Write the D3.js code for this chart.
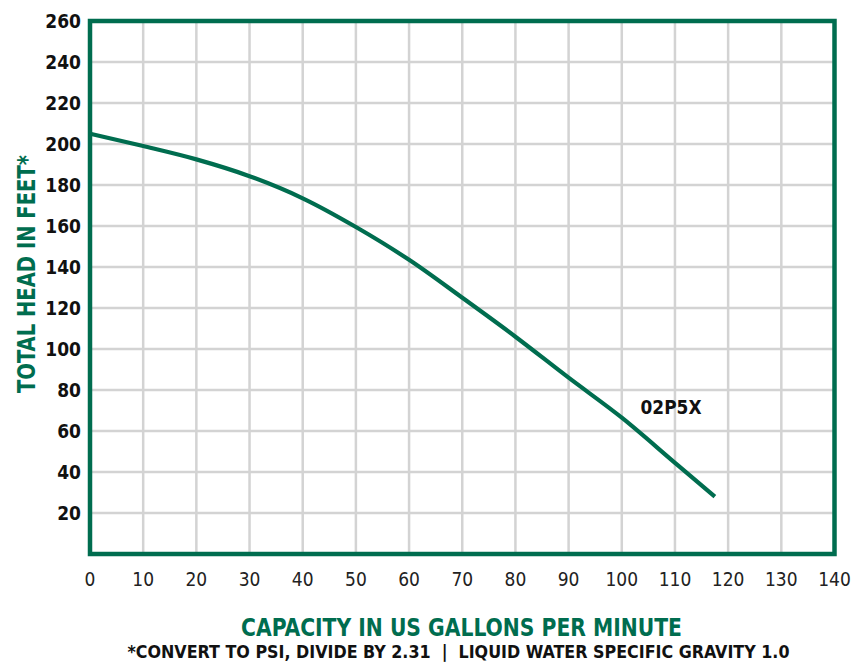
<!DOCTYPE html>
<html>
<head>
<meta charset="utf-8">
<script src="https://cdn.jsdelivr.net/npm/d3@7"></script>
<style>
  html, body { margin: 0; padding: 0; background: #fff; }
  svg { display: block; }
  text { font-family: "Liberation Sans Narrow", "DejaVu Sans Condensed", "Roboto Condensed", sans-serif; }
</style>
</head>
<body>
<svg id="chart" width="861" height="662"></svg>
<script>
// ---- data ----
const flowGPM = [0, 10, 20, 30, 40, 50, 60, 70, 80, 90, 100, 110, 117.5];
const headFt  = [205, 199, 192.5, 184.3, 173.5, 159.5, 143.5, 125, 106, 86, 66.5, 44.5, 28];
const xTicks = [0, 10, 20, 30, 40, 50, 60, 70, 80, 90, 100, 110, 120, 130, 140];
const yTicks = [20, 40, 60, 80, 100, 120, 140, 160, 180, 200, 220, 240, 260];
const gridY = [20, 40, 60, 80, 100, 120, 140, 160, 180, 200, 220, 240];
const seriesName = "02P5X";
const yTitle = "TOTAL HEAD IN FEET*";
const xTitle = "CAPACITY IN US GALLONS PER MINUTE";
const footnote = "*CONVERT TO PSI, DIVIDE BY 2.31  |  LIQUID WATER SPECIFIC GRAVITY 1.0";

const GREEN = "#006d4f";
const GRID = "#d3d3d3";

const svg = d3.select("#chart");
const x = d3.scaleLinear().domain([0, 140]).range([90, 834.5]);
const y = d3.scaleLinear().domain([0, 260]).range([554, 21]);

// grid
svg.append("g").selectAll("line").data(xTicks.slice(1, -1)).join("line")
  .attr("x1", d => x(d)).attr("x2", d => x(d))
  .attr("y1", y(260)).attr("y2", y(0))
  .attr("stroke", GRID).attr("stroke-width", 2.5);
svg.append("g").selectAll("line").data(gridY).join("line")
  .attr("x1", x(0)).attr("x2", x(140))
  .attr("y1", d => y(d)).attr("y2", d => y(d))
  .attr("stroke", GRID).attr("stroke-width", 2.5);

// curve
const pts = flowGPM.map((f, i) => [f, headFt[i]]);
svg.append("path")
  .datum(pts)
  .attr("d", d3.line().x(d => x(d[0])).y(d => y(d[1])).curve(d3.curveMonotoneX))
  .attr("fill", "none").attr("stroke", GREEN).attr("stroke-width", 4.2);

// frame
svg.append("rect")
  .attr("x", x(0)).attr("y", y(260))
  .attr("width", x(140) - x(0)).attr("height", y(0) - y(260))
  .attr("fill", "none").attr("stroke", GREEN).attr("stroke-width", 4.5);

// y tick labels
svg.append("g").selectAll("text").data(yTicks).join("text")
  .attr("x", 81).attr("y", d => y(d)).attr("dy", "0.36em")
  .attr("text-anchor", "end")
  .attr("font-size", 19).attr("font-weight", "bold").attr("fill", "#111")
  .text(d => d);

// x tick labels
svg.append("g").selectAll("text").data(xTicks).join("text")
  .attr("x", d => x(d)).attr("y", 586)
  .attr("text-anchor", "middle")
  .attr("font-size", 19).attr("fill", "#222")
  .text(d => d);

// series label
svg.append("text")
  .attr("x", 640.5).attr("y", 413.5)
  .attr("font-size", 19.5).attr("font-weight", "bold").attr("fill", "#111")
  .attr("textLength", 61).attr("lengthAdjust", "spacingAndGlyphs")
  .text(seriesName);

// y title
svg.append("text")
  .attr("transform", "translate(35,274) rotate(-90)")
  .attr("text-anchor", "middle")
  .attr("font-size", 25).attr("font-weight", "bold").attr("fill", GREEN)
  .attr("textLength", 238).attr("lengthAdjust", "spacingAndGlyphs")
  .text(yTitle);

// x title
svg.append("text")
  .attr("x", 461.5).attr("y", 635.5)
  .attr("text-anchor", "middle")
  .attr("font-size", 24).attr("font-weight", "bold").attr("fill", GREEN)
  .attr("textLength", 441).attr("lengthAdjust", "spacingAndGlyphs")
  .text(xTitle);

// footnote
svg.append("text")
  .attr("x", 458.5).attr("y", 657.8)
  .attr("text-anchor", "middle")
  .attr("font-size", 17.5).attr("font-weight", "bold").attr("fill", "#111")
  .attr("textLength", 662).attr("lengthAdjust", "spacingAndGlyphs")
  .attr("xml:space", "preserve")
  .text(footnote);
</script>
</body>
</html>
